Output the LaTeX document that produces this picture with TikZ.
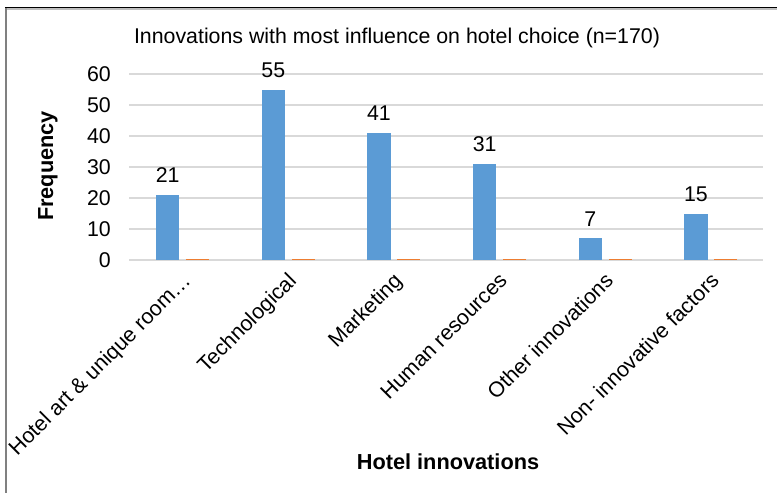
\documentclass[tikz,border=0pt]{standalone}
\usepackage{fontspec}
\setmainfont{Liberation Sans}
\definecolor{barblue}{HTML}{5B9BD5}
\definecolor{barorange}{HTML}{ED7D31}
\definecolor{gridgray}{HTML}{D9D9D9}

\begin{document}
\begin{tikzpicture}[%
        x = 0.75pt, y = -0.75pt,
        chartfont/.style = {font = \fontsize{16}{19}\selectfont},
        tick/.style = {chartfont, anchor = east, inner sep = 0pt},
        valuelabel/.style = {chartfont, inner sep = 0pt},
        catlabel/.style = {chartfont, rotate = 45, anchor = north east, inner sep = 0pt},
        axistitle/.style = {font = \fontsize{16.3}{19}\selectfont\bfseries, inner sep = 0pt},
        bluebar/.style = {fill = barblue},
        orangebar/.style = {fill = barorange}
    ]

        % Size of the whole picture.
        \useasboundingbox (0,0) rectangle (777,493);

        % Frame of the chart (only the top and left edges show).
        \draw[gray!50, line width = 1.5pt] (6,9) -- (777,9);
        \draw[black, line width = 1.4pt] (5,7.5) -- (777,7.5);
        \draw[gray, line width = 1.6pt] (6,8) -- (6,493);

        % Title.
        \node[chartfont] (title) at (397,38) {Innovations with most influence on hotel choice (n=170)};

        % Gridlines and tick labels, 10 units are 31 px.
        \foreach\t in {0, 10, ..., 60}{%
            \draw[gridgray, line width = 0.9pt] (129,260-3.1*\t) -- (763,260-3.1*\t);
            \node[tick] (tick\t) at (111,260-3.1*\t) {\t};
        }

        % Bars: index / value / category.
        \foreach\i/\v/\cat in {%
            1/21/{Hotel art \& unique room…},
            2/55/{Technological},
            3/41/{Marketing},
            4/31/{Human resources},
            5/7/{Other innovations},
            6/15/{Non- innovative factors}}{%

            % Centre of the category.
            \pgfmathsetmacro\cx{129 + (\i - 0.5)*105.67}

            % The blue bar and its (almost empty) orange partner.
            \fill[bluebar] (\cx-25.8,260) rectangle (\cx-2.5,260-3.1*\v);
            \fill[orangebar] (\cx+4.2,260) rectangle (\cx+27.3,258.7);

            % Value above the bar.
            \node[valuelabel] (value\i) at (\cx-14.2,260-3.1*\v-19.5) {\v};

            % Category name, turned by 45 degrees.
            \node[catlabel] (cat\i) at (\cx-1,271) {\cat};
        }

        % Axis titles.
        \node[axistitle, rotate = 90] (ytitle) at (48,166) {Frequency};
        \node[axistitle] (xtitle) at (448,462) {Hotel innovations};
    \end{tikzpicture}
\end{document}
